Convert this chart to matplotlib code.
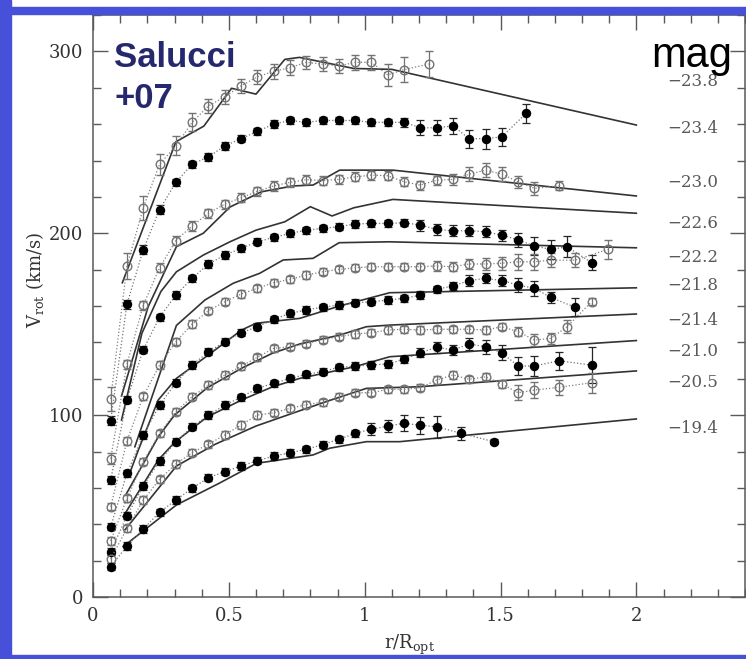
import matplotlib
matplotlib.use('Agg')
import matplotlib.pyplot as plt
from matplotlib.patches import Rectangle
from matplotlib.ticker import MultipleLocator

plt.rcParams['font.family'] = 'DejaVu Serif'
plt.rcParams['mathtext.fontset'] = 'dejavuserif'

# radial bins (r/Ropt) shared by the velocity curves
r_bins = [0.065, 0.125, 0.185, 0.245, 0.305, 0.365, 0.425, 0.485, 0.545, 0.605,
          0.665, 0.725, 0.785, 0.845, 0.905, 0.965, 1.025, 1.085, 1.145, 1.205, 1.265]

# binned rotation curves, one per magnitude class (open / filled alternate)
r_238 = r_bins[:19] + [1.235]
v_238 = [109, 182, 214, 238, 248, 261, 270, 275, 281, 286, 289, 291, 294, 293, 292, 294, 294, 287, 290, 293]
e_238 = [6.5, 7.3, 6.6, 5.7, 5.2, 5, 4, 4, 4, 4, 4, 4, 3.7, 3.7, 3.7, 4, 4, 6, 7, 7]

r_234 = r_bins + [1.325, 1.385, 1.445, 1.505, 1.595]
v_234 = [97, 161, 191, 213, 228, 238, 242, 248, 252, 256, 260, 262, 261, 262, 262, 262, 261, 261, 261, 258, 258,
         259, 252, 252, 253, 266]
e_234 = [2.5, 2.5, 2.5, 2.5, 2, 2, 2, 2, 2, 2, 2, 2, 2, 2, 2, 2, 2, 2, 2.5, 4, 4,
         4.5, 5, 5.5, 5, 5.3]

r_230 = r_bins + [1.325, 1.385, 1.445, 1.505, 1.565, 1.625, 1.715]
v_230 = [76, 128, 160.5, 181, 196, 204, 211, 216, 219.5, 223, 226, 228, 229.5, 229, 229.6, 231, 232, 231.6, 228.3,
         226.5, 229.2, 229.6, 232.5, 234.7, 232.5, 228.3, 224.7, 226.1]
e_230 = [3, 2.5, 2.5, 2.5, 2.5, 2.5, 2.5, 2.5, 2.5, 2.5, 2.5, 2.5, 2.5, 2.5, 2.5, 2.5, 2.5, 2.5, 2.5, 2.5, 2.5,
         3, 3.7, 4, 3.8, 3.4, 3.4, 2.5]

r_226 = r_bins + [1.325, 1.385, 1.445, 1.505, 1.565, 1.625, 1.685, 1.745, 1.835]
v_226 = [64.3, 108.5, 136, 153.8, 166, 175.2, 183.1, 188, 191.7, 195.3, 197.7, 199.9, 201.7, 202.7, 203.6, 205.1,
         205.4, 205.4, 205.8, 204.5, 202.1, 201.4, 201.4, 200.8, 199, 196.3, 193, 191.1, 192.6, 183.8]
e_226 = [2, 2, 2, 2, 2, 2, 2, 2, 2, 2, 2, 2, 2, 2, 2, 2, 2, 2, 2, 3, 3,
         3, 3, 3, 3, 4, 5, 5, 5.7, 4]

r_222 = r_bins + [1.325, 1.385, 1.445, 1.505, 1.565, 1.625, 1.685, 1.775, 1.895]
v_222 = [49.6, 85.8, 110.3, 127.5, 140.3, 150.1, 157.4, 162.3, 166.6, 169.7, 172.8, 174.6, 177, 178.8, 180.1, 181,
         181.6, 181.6, 181.6, 181.6, 182, 181.6, 183.1, 183.1, 183.5, 184.3, 184.3, 185.2, 185.2, 191.1]
e_222 = [2, 2, 2, 2, 2, 2, 2, 2, 2, 2, 2, 2, 2, 2, 2, 2, 2, 2, 2, 2, 2.5,
         2.5, 3, 3.5, 3.5, 4.5, 4.5, 3.7, 4, 5.2]

r_218 = r_bins + [1.325, 1.385, 1.445, 1.505, 1.565, 1.625, 1.685, 1.775]
v_218 = [38.6, 68, 89, 105.5, 117.8, 127.5, 134.8, 140.3, 145.3, 148.6, 152.6, 156, 157.8, 159.3, 160.5, 161.8,
         162.3, 163.3, 164.2, 166, 169.2, 171, 174, 175.2, 174, 171.5, 169.7, 164.7, 159.3]
e_218 = [2, 2, 2, 2, 2, 2, 2, 2, 2, 2, 2, 2, 2, 2, 2, 2, 2, 2, 2, 2, 2,
         2, 3, 2.8, 3.2, 3.7, 4, 3.2, 5]

r_214 = r_bins + [1.325, 1.385, 1.445, 1.505, 1.565, 1.625, 1.685, 1.745, 1.835]
v_214 = [30.8, 54.2, 74.4, 90, 101.9, 110.1, 116.5, 122.1, 126.8, 131.8, 136.7, 137.6, 139.3, 141.5, 143.1, 144.6,
         145.3, 146.8, 147.2, 146.8, 147.2, 147.2, 147.2, 146.8, 148.6, 145.9, 141.3, 142.2, 148.6, 162.3]
e_214 = [2, 2, 2, 2, 2, 2, 2, 2, 2, 2, 2, 2, 2, 2, 2, 2, 2, 2, 2, 2, 2,
         2, 2, 2, 2, 2.5, 3.5, 3.2, 3.7, 2]

r_210 = r_bins + [1.325, 1.385, 1.445, 1.505, 1.565, 1.625, 1.715, 1.835]
v_210 = [24.9, 44.7, 61, 74.8, 85.4, 93.6, 100, 105.5, 109.8, 114.7, 117.5, 120.2, 122.4, 123.9, 126.3, 127,
         127.6, 128.1, 130.7, 134.3, 137.3, 135.8, 139.1, 137.6, 134.3, 127, 127, 129.9, 127.5]
e_210 = [2, 2, 2, 2, 2, 2, 2, 2, 2, 2, 2, 2, 2, 2, 2, 2, 2, 2, 2, 2.5, 3,
         2.5, 3.2, 3.8, 4, 5, 5.3, 5, 10]

r_205 = r_bins + [1.325, 1.385, 1.445, 1.505, 1.565, 1.625, 1.715, 1.835]
v_205 = [20.9, 37.7, 53.3, 64.7, 73.1, 79.4, 84, 89.1, 94.6, 100, 101.3, 103.7, 105.8, 107.1, 110.1, 112.3,
         112.3, 114.2, 114.2, 115.1, 119.3, 122.1, 119.7, 121.1, 117.1, 112.3, 113.8, 115.3, 117.8]
e_205 = [2, 2, 2, 2, 2, 2, 2, 2, 2, 2, 2, 2, 2, 2, 2, 2, 2, 2, 2, 2, 2,
         2, 2, 2, 2.3, 4, 4.3, 4, 5.5]

r_194 = r_bins + [1.355, 1.475]
v_194 = [16.7, 28, 37.4, 46.6, 53.3, 59.8, 65.6, 68.9, 72, 74.9, 77.5, 79.3, 81.2, 83.8, 86.7, 90, 92.2, 94,
         95.5, 94.4, 93.6, 90, 85.4]
e_194 = [2, 2, 2, 2, 2, 2, 2, 2, 2, 2, 2, 2, 2, 2, 2, 2, 3.2, 3.2, 4.5, 4.7, 6, 3.7, 1.5]

# model curves (solid)
m_238_r = [0.108, 0.305, 0.408, 0.51, 0.6, 0.706, 0.76, 0.96, 1.1, 2.0]
m_238_v = [172.8, 250.3, 258.9, 279.7, 276.5, 295.6, 296.7, 290.6, 290.1, 259.5]
m_230_r = [0.105, 0.203, 0.307, 0.406, 0.504, 0.62, 0.736, 0.81, 0.908, 1.104, 2.0]
m_230_v = [110.5, 159.6, 192.6, 200, 214.4, 222.8, 226, 226.5, 234.7, 234.7, 220.5]
m_226_r = [0.105, 0.18, 0.25, 0.307, 0.406, 0.504, 0.6, 0.706, 0.8, 0.88, 0.96, 1.104, 2.0]
m_226_v = [97.3, 145, 168, 178.8, 188, 195.3, 201.7, 206.3, 214.6, 209.5, 214, 218.6, 211]
m_222_r = [0.154, 0.307, 0.412, 0.516, 0.614, 0.7, 0.81, 0.906, 1.09, 2.0]
m_222_v = [82.6, 149.3, 163.3, 172.5, 178, 185.3, 186.2, 194.8, 195.3, 192]
m_218_r = [0.13, 0.167, 0.24, 0.307, 0.424, 0.547, 0.6, 0.761, 0.908, 1.092, 2.0]
m_218_v = [66, 80.8, 108.3, 120.2, 133, 146.8, 150.5, 153.2, 160, 167.3, 170]
m_214_r = [0.12, 0.24, 0.3, 0.42, 0.55, 0.66, 0.761, 0.908, 1.006, 1.092, 2.0]
m_214_v = [56, 88, 100, 115, 126, 134, 139.1, 144, 148.6, 149.5, 155.6]
m_210_r = [0.111, 0.24, 0.3, 0.42, 0.55, 0.66, 0.761, 0.963, 1.092, 2.0]
m_210_v = [44.2, 75.3, 85, 99, 108.5, 115.5, 120.2, 126.6, 132.1, 141]
m_205_r = [0.118, 0.307, 0.45, 0.6, 0.761, 0.87, 1.006, 1.2, 2.0]
m_205_v = [37, 72, 84, 94, 102.4, 108, 114.7, 115.6, 124.3]
m_194_r = [0.111, 0.307, 0.464, 0.602, 0.81, 0.871, 1.006, 1.129, 2.0]
m_194_v = [27.7, 50.6, 62.5, 73.5, 78.1, 81.8, 85.4, 85.4, 97.9]

mags = ['\u221223.8', '\u221223.4', '\u221223.0', '\u221222.6', '\u221222.2',
        '\u221221.8', '\u221221.4', '\u221221.0', '\u221220.5', '\u221219.4']
mag_y = [283.7, 257.6, 227.9, 205.1, 186.7, 171.5, 152.3, 134.9, 117.8, 92.8]

fig = plt.figure(figsize=(7.46, 6.59), dpi=100)
ax = fig.add_axes([93/746, 62/659, 652/746, 582/659])

models = [(m_238_r, m_238_v), (m_230_r, m_230_v), (m_226_r, m_226_v), (m_222_r, m_222_v),
          (m_218_r, m_218_v), (m_214_r, m_214_v), (m_210_r, m_210_v), (m_205_r, m_205_v),
          (m_194_r, m_194_v)]
for mr, mv in models:
    ax.plot(mr, mv, '-', color='0.2', lw=1.2, zorder=2)

curves = [(r_238, v_238, e_238, True), (r_234, v_234, e_234, False),
          (r_230, v_230, e_230, True), (r_226, v_226, e_226, False),
          (r_222, v_222, e_222, True), (r_218, v_218, e_218, False),
          (r_214, v_214, e_214, True), (r_210, v_210, e_210, False),
          (r_205, v_205, e_205, True), (r_194, v_194, e_194, False)]
for r, v, e, is_open in curves:
    if is_open:
        c = '0.45'
        ax.errorbar(r, v, yerr=e, marker='o', ls=':', color='0.5', lw=0.9, ms=6.2,
                    mfc='none', mec=c, mew=1.0, ecolor=c, elinewidth=0.9,
                    capsize=3, capthick=0.9, zorder=3)
    else:
        ax.errorbar(r, v, yerr=e, marker='o', ls=':', color='0.45', lw=0.9, ms=5.8,
                    mfc='black', mec='black', ecolor='0.15', elinewidth=0.9,
                    capsize=3, capthick=0.9, zorder=3)

for m, y in zip(mags, mag_y):
    ax.text(2.115, y, m, fontsize=12, color='0.35', ha='left', va='center')

ax.text(0.078, 291.6, 'Salucci', fontsize=25, fontweight='bold', color='#26286e',
        family='Liberation Sans', va='baseline')
ax.text(0.078, 268.7, '+07', fontsize=25, fontweight='bold', color='#26286e',
        family='Liberation Sans', va='baseline')
ax.text(2.055, 291.4, 'mag', fontsize=30, color='black', family='Liberation Sans',
        va='baseline', zorder=5)

ax.set_xlim(0, 2.4)
ax.set_ylim(0, 320)
ax.xaxis.set_major_locator(MultipleLocator(0.5))
ax.xaxis.set_minor_locator(MultipleLocator(0.1))
ax.yaxis.set_major_locator(MultipleLocator(100))
ax.yaxis.set_minor_locator(MultipleLocator(20))
ax.set_xticks([0, 0.5, 1, 1.5, 2])
ax.set_xticklabels(['0', '0.5', '1', '1.5', '2'])
ax.tick_params(which='both', direction='in', top=True, right=True, color='0.35',
               width=1, labelsize=13, labelcolor='0.2', pad=7)
ax.tick_params(which='major', length=11)
ax.tick_params(which='minor', length=6)
for s in ax.spines.values():
    s.set_color('0.35')
    s.set_linewidth(1.1)

ax.set_xlabel(r'r/R$_{\rm opt}$', fontsize=13, color='0.2')
ax.set_ylabel(r'V$_{\rm rot}$ (km/s)', fontsize=13, color='0.2')
ax.xaxis.set_label_coords(0.486, -0.062)
ax.yaxis.set_label_coords(-0.072, 0.545)

# blue slide frame
blue = '#4650d8'
fig.add_artist(Rectangle((0, 0), 11/746, 1, transform=fig.transFigure, color=blue, zorder=10))
fig.add_artist(Rectangle((0, 1 - 14/659), 1, 7/659, transform=fig.transFigure, color=blue, zorder=10))
fig.add_artist(Rectangle((0, 0), 1, 4/659, transform=fig.transFigure, color=blue, zorder=10))

fig.savefig('out.png', dpi=100)
